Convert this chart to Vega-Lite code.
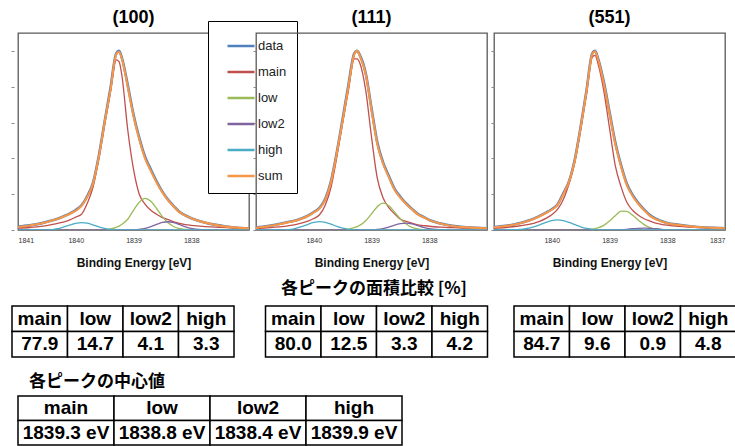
{
 "$schema": "https://vega.github.io/schema/vega-lite/v6.json",
 "background": "white",
 "padding": {"left": 9, "top": 7, "right": 2, "bottom": 0},
 "config": {
  "font": "Liberation Sans",
  "view": {"stroke": "#595959", "strokeWidth": 1.3},
  "title": {"font": "Liberation Sans", "fontSize": 18, "fontWeight": "bold", "color": "#000", "offset": 6, "frame": "group"},
  "axis": {"grid": false}
 },
 "datasets": {
  "spec": [
   {"p":"100","x":1841.0,"data":0.019,"main":0.010,"low":0,"low2":0,"high":0,"sum":0.017},
   {"p":"100","x":1840.8,"data":0.026,"main":0.014,"low":0,"low2":0,"high":0,"sum":0.025},
   {"p":"100","x":1840.6,"data":0.037,"main":0.020,"low":0,"low2":0,"high":0,"sum":0.036},
   {"p":"100","x":1840.4,"data":0.055,"main":0.031,"low":0,"low2":0,"high":0.002,"sum":0.054},
   {"p":"100","x":1840.3,"data":0.064,"main":0.038,"low":0,"low2":0,"high":0.008,"sum":0.063},
   {"p":"100","x":1840.2,"data":0.078,"main":0.046,"low":0,"low2":0,"high":0.017,"sum":0.077},
   {"p":"100","x":1840.1,"data":0.093,"main":0.057,"low":0,"low2":0,"high":0.028,"sum":0.091},
   {"p":"100","x":1840.0,"data":0.112,"main":0.072,"low":0,"low2":0,"high":0.037,"sum":0.108},
   {"p":"100","x":1839.9,"data":0.138,"main":0.088,"low":0,"low2":0,"high":0.041,"sum":0.135},
   {"p":"100","x":1839.8,"data":0.19,"main":0.15,"low":0.001,"low2":0,"high":0.038,"sum":0.186},
   {"p":"100","x":1839.7,"data":0.265,"main":0.24,"low":0.001,"low2":0,"high":0.029,"sum":0.26},
   {"p":"100","x":1839.6,"data":0.415,"main":0.40,"low":0.001,"low2":0,"high":0.018,"sum":0.41},
   {"p":"100","x":1839.5,"data":0.605,"main":0.59,"low":0.002,"low2":0,"high":0.009,"sum":0.60},
   {"p":"100","x":1839.4,"data":0.79,"main":0.77,"low":0.006,"low2":0,"high":0.003,"sum":0.78},
   {"p":"100","x":1839.3,"data":0.985,"main":0.95,"low":0.015,"low2":0,"high":0.001,"sum":0.98},
   {"p":"100","x":1839.25,"data":1.0,"main":0.94,"low":0.022,"low2":0,"high":0,"sum":0.995},
   {"p":"100","x":1839.2,"data":0.96,"main":0.86,"low":0.032,"low2":0,"high":0,"sum":0.955},
   {"p":"100","x":1839.1,"data":0.81,"main":0.56,"low":0.06,"low2":0,"high":0,"sum":0.80},
   {"p":"100","x":1839.0,"data":0.645,"main":0.34,"low":0.11,"low2":0.001,"high":0,"sum":0.635},
   {"p":"100","x":1838.9,"data":0.515,"main":0.20,"low":0.155,"low2":0.004,"high":0,"sum":0.505},
   {"p":"100","x":1838.8,"data":0.41,"main":0.145,"low":0.177,"low2":0.009,"high":0,"sum":0.40},
   {"p":"100","x":1838.7,"data":0.338,"main":0.11,"low":0.16,"low2":0.019,"high":0,"sum":0.33},
   {"p":"100","x":1838.6,"data":0.272,"main":0.088,"low":0.12,"low2":0.031,"high":0,"sum":0.265},
   {"p":"100","x":1838.5,"data":0.214,"main":0.069,"low":0.075,"low2":0.042,"high":0,"sum":0.21},
   {"p":"100","x":1838.4,"data":0.168,"main":0.058,"low":0.04,"low2":0.046,"high":0,"sum":0.165},
   {"p":"100","x":1838.3,"data":0.132,"main":0.046,"low":0.018,"low2":0.041,"high":0,"sum":0.13},
   {"p":"100","x":1838.2,"data":0.10,"main":0.037,"low":0.007,"low2":0.03,"high":0,"sum":0.098},
   {"p":"100","x":1838.1,"data":0.081,"main":0.03,"low":0.003,"low2":0.018,"high":0,"sum":0.08},
   {"p":"100","x":1838.0,"data":0.066,"main":0.026,"low":0.001,"low2":0.009,"high":0,"sum":0.066},
   {"p":"100","x":1837.8,"data":0.045,"main":0.02,"low":0,"low2":0.002,"high":0,"sum":0.044},
   {"p":"100","x":1837.6,"data":0.03,"main":0.016,"low":0,"low2":0,"high":0,"sum":0.03},
   {"p":"100","x":1837.4,"data":0.02,"main":0.013,"low":0,"low2":0,"high":0,"sum":0.019},
   {"p":"100","x":1837.2,"data":0.013,"main":0.011,"low":0,"low2":0,"high":0,"sum":0.013},
   {"p":"100","x":1837.0,"data":0.01,"main":0.01,"low":0,"low2":0,"high":0,"sum":0.01},

   {"p":"111","x":1841.0,"data":0.013,"main":0.008,"low":0,"low2":0,"high":0,"sum":0.012},
   {"p":"111","x":1840.8,"data":0.022,"main":0.012,"low":0,"low2":0,"high":0,"sum":0.021},
   {"p":"111","x":1840.6,"data":0.033,"main":0.017,"low":0,"low2":0,"high":0,"sum":0.032},
   {"p":"111","x":1840.4,"data":0.047,"main":0.026,"low":0,"low2":0,"high":0.003,"sum":0.046},
   {"p":"111","x":1840.3,"data":0.055,"main":0.032,"low":0,"low2":0,"high":0.010,"sum":0.053},
   {"p":"111","x":1840.2,"data":0.066,"main":0.040,"low":0,"low2":0,"high":0.020,"sum":0.064},
   {"p":"111","x":1840.1,"data":0.080,"main":0.050,"low":0,"low2":0,"high":0.032,"sum":0.078},
   {"p":"111","x":1840.0,"data":0.100,"main":0.064,"low":0,"low2":0,"high":0.042,"sum":0.098},
   {"p":"111","x":1839.9,"data":0.124,"main":0.085,"low":0,"low2":0,"high":0.047,"sum":0.121},
   {"p":"111","x":1839.8,"data":0.175,"main":0.14,"low":0.001,"low2":0,"high":0.043,"sum":0.17},
   {"p":"111","x":1839.7,"data":0.275,"main":0.24,"low":0.001,"low2":0,"high":0.033,"sum":0.27},
   {"p":"111","x":1839.6,"data":0.435,"main":0.41,"low":0.001,"low2":0,"high":0.020,"sum":0.43},
   {"p":"111","x":1839.5,"data":0.62,"main":0.60,"low":0.002,"low2":0,"high":0.010,"sum":0.61},
   {"p":"111","x":1839.4,"data":0.81,"main":0.78,"low":0.005,"low2":0,"high":0.004,"sum":0.80},
   {"p":"111","x":1839.3,"data":0.985,"main":0.955,"low":0.013,"low2":0,"high":0.001,"sum":0.98},
   {"p":"111","x":1839.25,"data":1.0,"main":0.955,"low":0.019,"low2":0,"high":0,"sum":1.0},
   {"p":"111","x":1839.2,"data":0.975,"main":0.93,"low":0.027,"low2":0,"high":0,"sum":0.97},
   {"p":"111","x":1839.1,"data":0.875,"main":0.78,"low":0.052,"low2":0,"high":0,"sum":0.87},
   {"p":"111","x":1839.0,"data":0.68,"main":0.52,"low":0.09,"low2":0.001,"high":0,"sum":0.67},
   {"p":"111","x":1838.9,"data":0.49,"main":0.29,"low":0.13,"low2":0.003,"high":0,"sum":0.48},
   {"p":"111","x":1838.8,"data":0.378,"main":0.18,"low":0.15,"low2":0.008,"high":0,"sum":0.37},
   {"p":"111","x":1838.7,"data":0.302,"main":0.125,"low":0.136,"low2":0.016,"high":0,"sum":0.295},
   {"p":"111","x":1838.6,"data":0.23,"main":0.09,"low":0.10,"low2":0.027,"high":0,"sum":0.223},
   {"p":"111","x":1838.5,"data":0.186,"main":0.06,"low":0.063,"low2":0.035,"high":0,"sum":0.18},
   {"p":"111","x":1838.4,"data":0.148,"main":0.048,"low":0.034,"low2":0.038,"high":0,"sum":0.145},
   {"p":"111","x":1838.3,"data":0.118,"main":0.038,"low":0.015,"low2":0.034,"high":0,"sum":0.115},
   {"p":"111","x":1838.2,"data":0.09,"main":0.029,"low":0.006,"low2":0.025,"high":0,"sum":0.087},
   {"p":"111","x":1838.1,"data":0.073,"main":0.025,"low":0.002,"low2":0.015,"high":0,"sum":0.072},
   {"p":"111","x":1838.0,"data":0.056,"main":0.021,"low":0.001,"low2":0.008,"high":0,"sum":0.055},
   {"p":"111","x":1837.8,"data":0.036,"main":0.016,"low":0,"low2":0.002,"high":0,"sum":0.035},
   {"p":"111","x":1837.6,"data":0.023,"main":0.013,"low":0,"low2":0,"high":0,"sum":0.022},
   {"p":"111","x":1837.4,"data":0.016,"main":0.011,"low":0,"low2":0,"high":0,"sum":0.016},
   {"p":"111","x":1837.2,"data":0.012,"main":0.010,"low":0,"low2":0,"high":0,"sum":0.012},
   {"p":"111","x":1837.0,"data":0.010,"main":0.009,"low":0,"low2":0,"high":0,"sum":0.010},

   {"p":"551","x":1841.0,"data":0.016,"main":0.010,"low":0,"low2":0,"high":0,"sum":0.015},
   {"p":"551","x":1840.8,"data":0.023,"main":0.014,"low":0,"low2":0,"high":0.001,"sum":0.022},
   {"p":"551","x":1840.6,"data":0.035,"main":0.021,"low":0,"low2":0,"high":0.002,"sum":0.033},
   {"p":"551","x":1840.4,"data":0.053,"main":0.032,"low":0,"low2":0,"high":0.010,"sum":0.051},
   {"p":"551","x":1840.3,"data":0.065,"main":0.039,"low":0,"low2":0,"high":0.019,"sum":0.063},
   {"p":"551","x":1840.2,"data":0.080,"main":0.050,"low":0,"low2":0,"high":0.030,"sum":0.078},
   {"p":"551","x":1840.1,"data":0.097,"main":0.065,"low":0,"low2":0,"high":0.042,"sum":0.095},
   {"p":"551","x":1840.0,"data":0.116,"main":0.085,"low":0,"low2":0,"high":0.052,"sum":0.113},
   {"p":"551","x":1839.9,"data":0.143,"main":0.115,"low":0,"low2":0,"high":0.056,"sum":0.14},
   {"p":"551","x":1839.8,"data":0.205,"main":0.17,"low":0,"low2":0,"high":0.052,"sum":0.20},
   {"p":"551","x":1839.7,"data":0.272,"main":0.26,"low":0,"low2":0,"high":0.042,"sum":0.27},
   {"p":"551","x":1839.6,"data":0.395,"main":0.38,"low":0.001,"low2":0,"high":0.030,"sum":0.39},
   {"p":"551","x":1839.5,"data":0.575,"main":0.56,"low":0.001,"low2":0,"high":0.018,"sum":0.57},
   {"p":"551","x":1839.4,"data":0.775,"main":0.76,"low":0.002,"low2":0,"high":0.009,"sum":0.77},
   {"p":"551","x":1839.3,"data":0.985,"main":0.965,"low":0.005,"low2":0,"high":0.004,"sum":0.98},
   {"p":"551","x":1839.25,"data":1.0,"main":0.975,"low":0.008,"low2":0,"high":0.002,"sum":0.998},
   {"p":"551","x":1839.2,"data":0.96,"main":0.93,"low":0.012,"low2":0,"high":0.001,"sum":0.955},
   {"p":"551","x":1839.1,"data":0.83,"main":0.78,"low":0.026,"low2":0,"high":0,"sum":0.82},
   {"p":"551","x":1839.0,"data":0.66,"main":0.57,"low":0.05,"low2":0,"high":0,"sum":0.65},
   {"p":"551","x":1838.9,"data":0.49,"main":0.36,"low":0.08,"low2":0,"high":0,"sum":0.48},
   {"p":"551","x":1838.8,"data":0.362,"main":0.242,"low":0.105,"low2":0.002,"high":0,"sum":0.354},
   {"p":"551","x":1838.7,"data":0.258,"main":0.155,"low":0.104,"low2":0.004,"high":0,"sum":0.25},
   {"p":"551","x":1838.6,"data":0.196,"main":0.11,"low":0.083,"low2":0.007,"high":0,"sum":0.19},
   {"p":"551","x":1838.5,"data":0.15,"main":0.082,"low":0.055,"low2":0.009,"high":0,"sum":0.145},
   {"p":"551","x":1838.4,"data":0.114,"main":0.063,"low":0.03,"low2":0.010,"high":0,"sum":0.11},
   {"p":"551","x":1838.3,"data":0.083,"main":0.050,"low":0.013,"low2":0.009,"high":0,"sum":0.079},
   {"p":"551","x":1838.2,"data":0.063,"main":0.039,"low":0.005,"low2":0.007,"high":0,"sum":0.060},
   {"p":"551","x":1838.1,"data":0.05,"main":0.032,"low":0.002,"low2":0.004,"high":0,"sum":0.048},
   {"p":"551","x":1838.0,"data":0.039,"main":0.027,"low":0.001,"low2":0.002,"high":0,"sum":0.038},
   {"p":"551","x":1837.8,"data":0.029,"main":0.020,"low":0,"low2":0,"high":0,"sum":0.028},
   {"p":"551","x":1837.6,"data":0.021,"main":0.016,"low":0,"low2":0,"high":0,"sum":0.020},
   {"p":"551","x":1837.4,"data":0.015,"main":0.013,"low":0,"low2":0,"high":0,"sum":0.015},
   {"p":"551","x":1837.2,"data":0.012,"main":0.011,"low":0,"low2":0,"high":0,"sum":0.012},
   {"p":"551","x":1837.0,"data":0.010,"main":0.010,"low":0,"low2":0,"high":0,"sum":0.010}
  ],
  "area": [
   {"t":"100","peak":"main","area":77.9},{"t":"100","peak":"low","area":14.7},{"t":"100","peak":"low2","area":4.1},{"t":"100","peak":"high","area":3.3},
   {"t":"111","peak":"main","area":80.0},{"t":"111","peak":"low","area":12.5},{"t":"111","peak":"low2","area":3.3},{"t":"111","peak":"high","area":4.2},
   {"t":"551","peak":"main","area":84.7},{"t":"551","peak":"low","area":9.6},{"t":"551","peak":"low2","area":0.9},{"t":"551","peak":"high","area":4.8}
  ],
  "center": [
   {"peak":"main","center":"1839.3 eV"},{"peak":"low","center":"1838.8 eV"},{"peak":"low2","center":"1838.4 eV"},{"peak":"high","center":"1839.9 eV"}
  ]
 },
 "columns": 1,
 "align": "none",
 "spacing": 11,
 "concat": [
  {
   "bounds": "flush",
   "spacing": 7,
   "resolve": {"scale": {"color": "independent"}},
   "hconcat": [
    {
     "width": 231, "height": 197,
     "title": {"text": "(100)", "offset": -6},
     "data": {"name": "spec"},
     "transform": [{"filter": {"field": "p", "equal": "100"}}, {"fold": ["data","main","low","low2","high","sum"], "as": ["series","y"]}],
     "encoding": {
      "x": {"field": "x", "type": "quantitative", "scale": {"domain": [1837, 1841], "reverse": true, "nice": false, "zero": false},
            "axis": {"values": [1841, 1840, 1839, 1838], "format": "d", "domain": false, "ticks": false, "tickSize": 0, "labelPadding": 6, "labelFontSize": 7, "labelColor": "#333", "title": "Binding Energy [eV]", "titleFontSize": 12, "titleFontWeight": "bold", "titlePadding": 14, "titleColor": "#111"}},
      "y": {"field": "y", "type": "quantitative", "scale": {"domain": [0, 1.1], "nice": false},
            "axis": {"values": [0, 0.2, 0.4, 0.6, 0.8, 1], "labels": false, "domain": false, "ticks": true, "tickSize": 3, "offset": 4, "tickColor": "#888", "title": null}},
      "color": {"field": "series", "type": "nominal",
                "scale": {"domain": ["data","main","low","low2","high","sum"], "range": ["#4F81BD","#C0504D","#9BBB59","#8064A2","#4BACC6","#F79646"]},
                "legend": {"orient": "none", "legendX": 190, "legendY": -12, "title": null, "titlePadding": 0, "symbolType": "stroke", "symbolSize": 729, "symbolStrokeWidth": 2.5, "symbolOffset": 8, "labelFont": "Liberation Sans", "labelFontSize": 13, "labelColor": "#222", "labelOffset": 2, "padding": 10, "rowPadding": 4, "strokeColor": "#000", "fillColor": "#fff"}}
     },
     "layer": [
      {"transform": [{"filter": {"field": "series", "equal": "data"}}], "mark": {"type": "line", "interpolate": "monotone", "clip": true, "strokeWidth": 2.6}},
      {"transform": [{"filter": {"field": "series", "oneOf": ["main","low","low2","high"]}}], "mark": {"type": "line", "interpolate": "monotone", "clip": true, "strokeWidth": 1.3}},
      {"transform": [{"filter": {"field": "series", "equal": "sum"}}], "mark": {"type": "line", "interpolate": "monotone", "clip": true, "strokeWidth": 2.1}}
     ]
    },
    {
     "width": 231, "height": 197,
     "title": {"text": "(111)"},
     "data": {"name": "spec"},
     "transform": [{"filter": {"field": "p", "equal": "111"}}, {"fold": ["data","main","low","low2","high","sum"], "as": ["series","y"]}],
     "encoding": {
      "x": {"field": "x", "type": "quantitative", "scale": {"domain": [1837, 1841], "reverse": true, "nice": false, "zero": false},
            "axis": {"values": [1840, 1839, 1838], "format": "d", "domain": false, "ticks": false, "tickSize": 0, "labelPadding": 6, "labelFontSize": 7, "labelColor": "#333", "title": "Binding Energy [eV]", "titleFontSize": 12, "titleFontWeight": "bold", "titlePadding": 14, "titleColor": "#111"}},
      "y": {"field": "y", "type": "quantitative", "scale": {"domain": [0, 1.1], "nice": false},
            "axis": {"values": [0, 0.2, 0.4, 0.6, 0.8, 1], "labels": false, "domain": false, "ticks": true, "tickSize": 3, "tickColor": "#888", "title": null}},
      "color": {"field": "series", "type": "nominal",
                "scale": {"domain": ["data","main","low","low2","high","sum"], "range": ["#4F81BD","#C0504D","#9BBB59","#8064A2","#4BACC6","#F79646"]},
                "legend": null}
     },
     "layer": [
      {"transform": [{"filter": {"field": "series", "equal": "data"}}], "mark": {"type": "line", "interpolate": "monotone", "clip": true, "strokeWidth": 2.6}},
      {"transform": [{"filter": {"field": "series", "oneOf": ["main","low","low2","high"]}}], "mark": {"type": "line", "interpolate": "monotone", "clip": true, "strokeWidth": 1.3}},
      {"transform": [{"filter": {"field": "series", "equal": "sum"}}], "mark": {"type": "line", "interpolate": "monotone", "clip": true, "strokeWidth": 2.1}}
     ]
    },
    {
     "width": 231, "height": 197,
     "title": {"text": "(551)"},
     "data": {"name": "spec"},
     "transform": [{"filter": {"field": "p", "equal": "551"}}, {"fold": ["data","main","low","low2","high","sum"], "as": ["series","y"]}],
     "encoding": {
      "x": {"field": "x", "type": "quantitative", "scale": {"domain": [1837, 1841], "reverse": true, "nice": false, "zero": false},
            "axis": {"values": [1840, 1839, 1838, 1837], "format": "d", "domain": false, "ticks": false, "tickSize": 0, "labelPadding": 6, "labelFontSize": 7, "labelColor": "#333", "title": "Binding Energy [eV]", "titleFontSize": 12, "titleFontWeight": "bold", "titlePadding": 14, "titleColor": "#111"}},
      "y": {"field": "y", "type": "quantitative", "scale": {"domain": [0, 1.1], "nice": false},
            "axis": {"values": [0, 0.2, 0.4, 0.6, 0.8, 1], "labels": false, "domain": false, "ticks": true, "tickSize": 3, "tickColor": "#888", "title": null}},
      "color": {"field": "series", "type": "nominal",
                "scale": {"domain": ["data","main","low","low2","high","sum"], "range": ["#4F81BD","#C0504D","#9BBB59","#8064A2","#4BACC6","#F79646"]},
                "legend": null}
     },
     "layer": [
      {"transform": [{"filter": {"field": "series", "equal": "data"}}], "mark": {"type": "line", "interpolate": "monotone", "clip": true, "strokeWidth": 2.6}},
      {"transform": [{"filter": {"field": "series", "oneOf": ["main","low","low2","high"]}}], "mark": {"type": "line", "interpolate": "monotone", "clip": true, "strokeWidth": 1.3}},
      {"transform": [{"filter": {"field": "series", "equal": "sum"}}], "mark": {"type": "line", "interpolate": "monotone", "clip": true, "strokeWidth": 2.1}}
     ]
    }
   ]
  },
  {
   "spacing": 15,
   "vconcat": [
    {
     "spacing": 24.5,
     "title": {"text": "各ピークの面積比較 [%]", "font": "Noto Sans CJK JP", "fontSize": 17, "fontWeight": "bold", "anchor": "middle", "frame": "bounds", "offset": 7},
     "hconcat": [
      {
       "width": 222, "height": 51, "view": {"stroke": null},
       "data": {"name": "area"},
       "transform": [{"filter": {"field": "t", "equal": "100"}}],
       "encoding": {"x": {"field": "peak", "type": "nominal", "sort": ["main","low","low2","high"], "scale": {"type": "band", "range": [-6, 216], "paddingInner": 0, "paddingOuter": 0}, "axis": null}},
       "layer": [
        {"mark": {"type": "rect", "fill": "#fff", "stroke": "#000", "strokeWidth": 1.5}, "encoding": {"y": {"datum": "h", "type": "nominal", "scale": {"type": "band", "domain": ["h","v"], "paddingInner": 0, "paddingOuter": 0}, "axis": null}}},
        {"mark": {"type": "rect", "fill": "#fff", "stroke": "#000", "strokeWidth": 1.5}, "encoding": {"y": {"datum": "v", "type": "nominal"}}},
        {"mark": {"type": "text", "font": "Liberation Sans", "fontSize": 19, "fontWeight": "bold", "color": "#000"}, "encoding": {"y": {"datum": "h", "type": "nominal"}, "text": {"field": "peak"}}},
        {"mark": {"type": "text", "font": "Liberation Sans", "fontSize": 19, "fontWeight": "bold", "color": "#000"}, "encoding": {"y": {"datum": "v", "type": "nominal"}, "text": {"field": "area", "type": "quantitative", "format": ".1f"}}}
       ]
      },
      {
       "width": 222, "height": 51, "view": {"stroke": null},
       "data": {"name": "area"},
       "transform": [{"filter": {"field": "t", "equal": "111"}}],
       "encoding": {"x": {"field": "peak", "type": "nominal", "sort": ["main","low","low2","high"], "scale": {"type": "band", "paddingInner": 0, "paddingOuter": 0}, "axis": null}},
       "layer": [
        {"mark": {"type": "rect", "fill": "#fff", "stroke": "#000", "strokeWidth": 1.5}, "encoding": {"y": {"datum": "h", "type": "nominal", "scale": {"type": "band", "domain": ["h","v"], "paddingInner": 0, "paddingOuter": 0}, "axis": null}}},
        {"mark": {"type": "rect", "fill": "#fff", "stroke": "#000", "strokeWidth": 1.5}, "encoding": {"y": {"datum": "v", "type": "nominal"}}},
        {"mark": {"type": "text", "font": "Liberation Sans", "fontSize": 19, "fontWeight": "bold", "color": "#000"}, "encoding": {"y": {"datum": "h", "type": "nominal"}, "text": {"field": "peak"}}},
        {"mark": {"type": "text", "font": "Liberation Sans", "fontSize": 19, "fontWeight": "bold", "color": "#000"}, "encoding": {"y": {"datum": "v", "type": "nominal"}, "text": {"field": "area", "type": "quantitative", "format": ".1f"}}}
       ]
      },
      {
       "width": 222, "height": 51, "view": {"stroke": null},
       "data": {"name": "area"},
       "transform": [{"filter": {"field": "t", "equal": "551"}}],
       "encoding": {"x": {"field": "peak", "type": "nominal", "sort": ["main","low","low2","high"], "scale": {"type": "band", "paddingInner": 0, "paddingOuter": 0}, "axis": null}},
       "layer": [
        {"mark": {"type": "rect", "fill": "#fff", "stroke": "#000", "strokeWidth": 1.5}, "encoding": {"y": {"datum": "h", "type": "nominal", "scale": {"type": "band", "domain": ["h","v"], "paddingInner": 0, "paddingOuter": 0}, "axis": null}}},
        {"mark": {"type": "rect", "fill": "#fff", "stroke": "#000", "strokeWidth": 1.5}, "encoding": {"y": {"datum": "v", "type": "nominal"}}},
        {"mark": {"type": "text", "font": "Liberation Sans", "fontSize": 19, "fontWeight": "bold", "color": "#000"}, "encoding": {"y": {"datum": "h", "type": "nominal"}, "text": {"field": "peak"}}},
        {"mark": {"type": "text", "font": "Liberation Sans", "fontSize": 19, "fontWeight": "bold", "color": "#000"}, "encoding": {"y": {"datum": "v", "type": "nominal"}, "text": {"field": "area", "type": "quantitative", "format": ".1f"}}}
       ]
      }
     ]
    },
    {
     "width": 384, "height": 49, "view": {"stroke": null},
     "title": {"text": "各ピークの中心値", "font": "Noto Sans CJK JP", "fontSize": 17, "fontWeight": "bold", "anchor": "start", "dx": 11, "offset": 4},
     "data": {"name": "center"},
     "encoding": {"x": {"field": "peak", "type": "nominal", "sort": ["main","low","low2","high"], "scale": {"type": "band", "paddingInner": 0, "paddingOuter": 0}, "axis": null}},
     "layer": [
      {"mark": {"type": "rect", "fill": "#fff", "stroke": "#000", "strokeWidth": 1.5}, "encoding": {"y": {"datum": "h", "type": "nominal", "scale": {"type": "band", "domain": ["h","v"], "paddingInner": 0, "paddingOuter": 0}, "axis": null}}},
      {"mark": {"type": "rect", "fill": "#fff", "stroke": "#000", "strokeWidth": 1.5}, "encoding": {"y": {"datum": "v", "type": "nominal"}}},
      {"mark": {"type": "text", "font": "Liberation Sans", "fontSize": 19, "fontWeight": "bold", "color": "#000"}, "encoding": {"y": {"datum": "h", "type": "nominal"}, "text": {"field": "peak"}}},
      {"mark": {"type": "text", "font": "Liberation Sans", "fontSize": 19, "fontWeight": "bold", "color": "#000"}, "encoding": {"y": {"datum": "v", "type": "nominal"}, "text": {"field": "center"}}}
     ]
    }
   ]
  }
 ]
}
